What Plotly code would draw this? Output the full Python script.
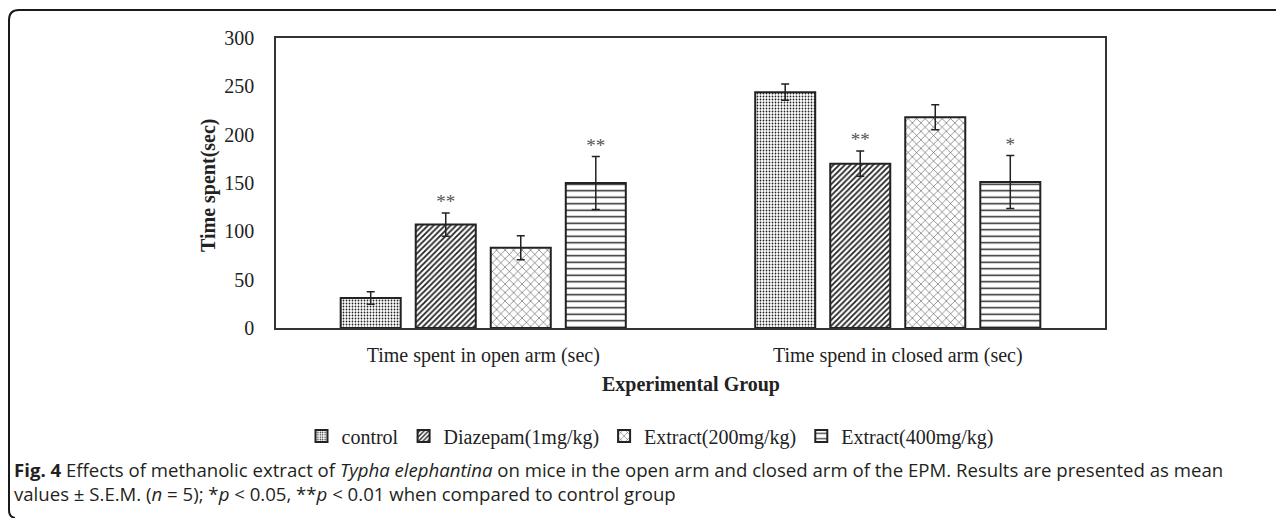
import plotly.graph_objects as go

# ---- data ----
categories = ["Time spent in open arm (sec)", "Time spend in closed arm (sec)"]
series_names = ["control", "Diazepam(1mg/kg)", "Extract(200mg/kg)", "Extract(400mg/kg)"]
control_vals = [31, 244]
control_err = [6.5, 8.5]
diazepam_vals = [107, 170]
diazepam_err = [12, 13]
extract200_vals = [83, 218]
extract200_err = [12.5, 13]
extract400_vals = [150, 151]
extract400_err = [27.5, 27.5]
sig_control = ["", ""]
sig_diazepam = ["**", "**"]
sig_extract200 = ["", ""]
sig_extract400 = ["**", "*"]
y_ticks = [0, 50, 100, 150, 200, 250, 300]

OFF = 8  # page body margin offset
W, H = 1284 - OFF, 518 - OFF
L, R, T, B = 276, 1105, 38, 328  # plot area pixel box (window coordinates)


def px(x):
    return (x - L) / (R - L)


def py(y):
    return (B - y) / (B - T)


serif = "Liberation Serif, Times New Roman, serif"
ink = "#222222"

styles = [
    dict(shape=".", size=3, solidity=0.28),
    dict(shape="/", size=4, solidity=0.45),
    dict(shape="x", size=6, solidity=0.15),
    dict(shape="-", size=6.5, solidity=0.22),
]
vals = [control_vals, diazepam_vals, extract200_vals, extract400_vals]
errs = [control_err, diazepam_err, extract200_err, extract400_err]
sigs = [sig_control, sig_diazepam, sig_extract200, sig_extract400]

fig = go.Figure()
for i, name in enumerate(series_names):
    st = styles[i]
    fig.add_trace(go.Bar(
        x=categories, y=vals[i], name=name, offsetgroup=str(i),
        marker=dict(color="white", line=dict(color=ink, width=2),
                    pattern=dict(shape=st["shape"], size=st["size"], solidity=st["solidity"],
                                 fgcolor=ink, bgcolor="white", fillmode="replace")),
        error_y=dict(type="data", array=errs[i], visible=True, color=ink, thickness=1.5, width=4),
    ))
for i, name in enumerate(series_names):
    fig.add_trace(go.Scatter(
        x=categories, y=[v + e for v, e in zip(vals[i], errs[i])], text=sigs[i],
        mode="text", textposition="top center", offsetgroup=str(i), showlegend=False,
        textfont=dict(family=serif, size=19, color="#555555"), cliponaxis=False,
        hoverinfo="skip",
    ))

fig.update_layout(
    width=W, height=H,
    margin=dict(l=L - OFF, r=1284 - R, t=T - OFF, b=518 - B),
    paper_bgcolor="white", plot_bgcolor="white",
    barmode="group", bargap=0.276, bargroupgap=0.2,
    scattermode="group", scattergap=0.276,
    font=dict(family=serif, size=20, color=ink),
    showlegend=True,
    legend=dict(orientation="h", x=px(650), xanchor="center", y=py(436), yanchor="middle",
                font=dict(family=serif, size=20, color=ink), itemwidth=30,
                traceorder="normal", bgcolor="rgba(0,0,0,0)"),
    xaxis=dict(showline=True, linecolor="#333", linewidth=1.5, mirror=True, ticks="",
               showgrid=False, ticklabelstandoff=8,
               tickfont=dict(family=serif, size=20, color=ink)),
    yaxis=dict(range=[0, 300], tickvals=y_ticks, showline=True, linecolor="#333", linewidth=1.5,
               mirror=True, ticks="", showgrid=False, zeroline=False, ticklabelstandoff=16,
               tickfont=dict(family=serif, size=20, color=ink)),
)

fig.add_annotation(text="<b>Time spent(sec)</b>", textangle=-90, xref="paper", yref="paper",
                   x=px(208), y=py(185), xanchor="center", yanchor="middle", showarrow=False,
                   font=dict(family=serif, size=20, color=ink))
fig.add_annotation(text="<b>Experimental Group</b>", xref="paper", yref="paper",
                   x=px(691), y=py(384), xanchor="center", yanchor="middle", showarrow=False,
                   font=dict(family=serif, size=20, color=ink))

cap_font = dict(family="Open Sans, sans-serif", size=18.6, color="#231f20")
fig.add_annotation(
    text=("<b>Fig. 4</b> Effects of methanolic extract of <i>Typha elephantina</i> on mice in the open arm "
          "and closed arm of the EPM. Results are presented as mean<br>"
          "values ± S.E.M. (<i>n</i> = 5); *<i>p</i> &lt; 0.05, **<i>p</i> &lt; 0.01 when compared to control group"),
    xref="paper", yref="paper", x=px(12), y=py(481), xanchor="left", yanchor="middle",
    align="left", showarrow=False, font=cap_font)

# outer rounded frame (top and left edges)
path = (f"M {px(1290)},{py(10)} L {px(19)},{py(10)} Q {px(9)},{py(10)} {px(9)},{py(20)} "
        f"L {px(9)},{py(510)} Q {px(9)},{py(517)} {px(15)},{py(518)}")
fig.add_shape(type="path", path=path, xref="paper", yref="paper",
              line=dict(color="#1a1a1a", width=2))

fig.write_html("out.html")
